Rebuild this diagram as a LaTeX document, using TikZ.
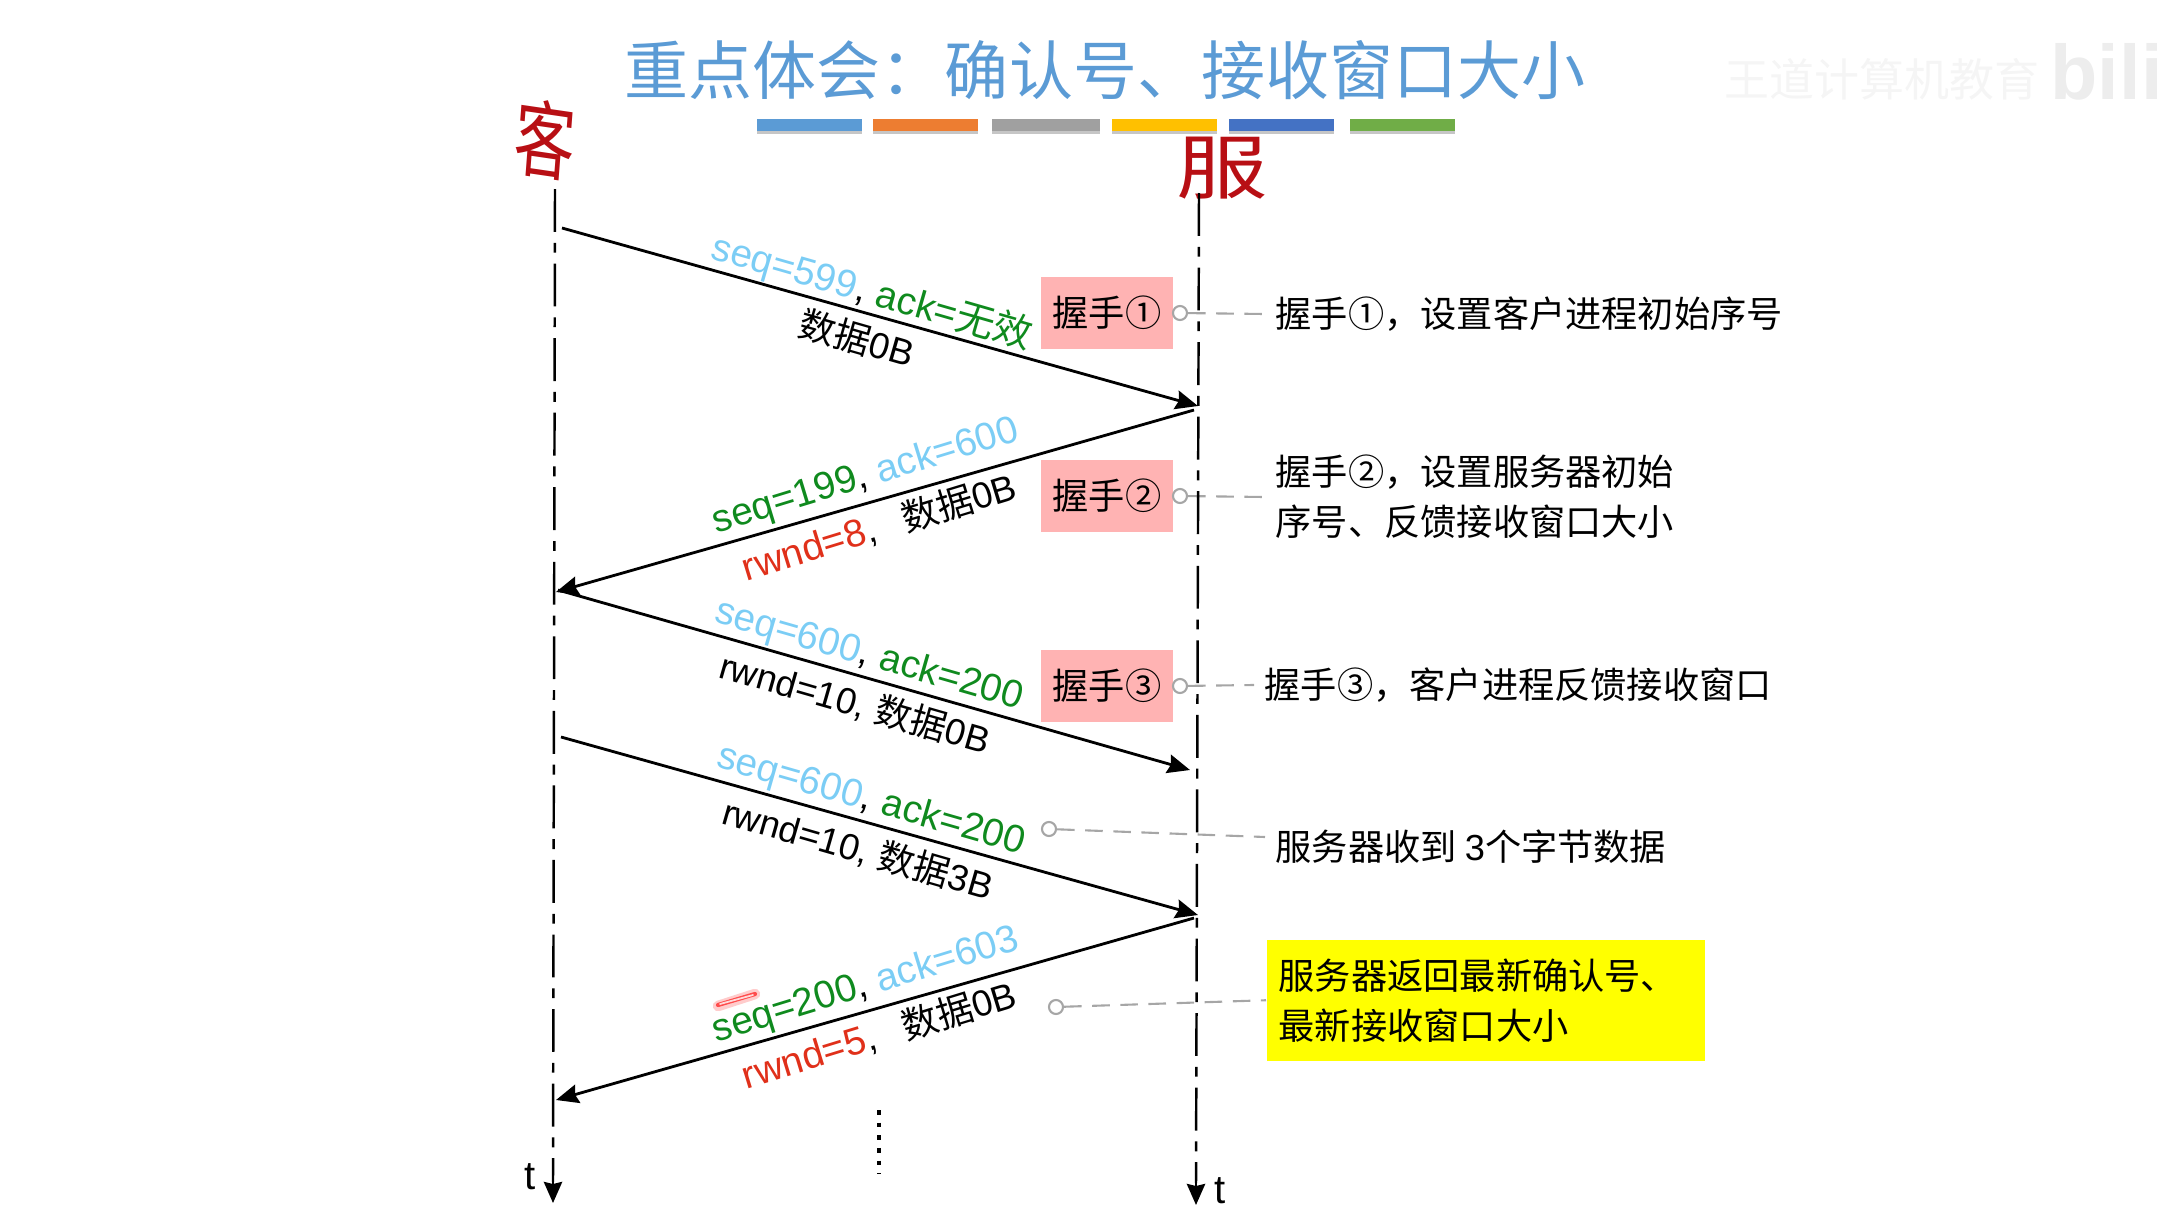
\documentclass[tikz,border=0pt]{standalone}
\usepackage{fontspec}
\setmainfont{Liberation Sans}
\newfontfamily\cjk{Noto Sans CJK SC}
\newcommand{\zh}[1]{{\cjk #1}}
\newcommand{\rwndtext}[1]{\textcolor{redtext}{\fontsize{11}{14}\selectfont #1}}
\usetikzlibrary{arrows.meta}
\definecolor{titleblue}{HTML}{5B9BD5}
\definecolor{barorange}{HTML}{ED7D31}
\definecolor{bargray}{HTML}{A0A0A0}
\definecolor{baryellow}{HTML}{FFC000}
\definecolor{barblue}{HTML}{4472C4}
\definecolor{bargreen}{HTML}{70AD47}
\definecolor{skytext}{HTML}{7BCDF5}
\definecolor{greentext}{HTML}{0F8A1E}
\definecolor{redtext}{HTML}{E0301A}
\definecolor{handred}{HTML}{B80F14}
\definecolor{shakepink}{HTML}{FFB3B3}
\definecolor{noteyellow}{HTML}{FFFF00}
\tikzset{
	lifeline/.style={line width=.7pt, dash pattern=on 12.2pt off 3.1pt on 2.8pt off 3.1pt},
	lifeend/.style={-{Stealth[length=6pt,width=5.2pt,inset=.6pt]}, line width=.7pt},
	msgline/.style={-{Stealth[length=6.4pt,width=5.4pt,inset=.8pt]}, line width=.8pt},
	seqtext/.style={font=\fontsize{11}{14}\selectfont, inner sep=0pt},
	dattext/.style={font=\fontsize{10.4}{14}\selectfont, inner sep=0pt},
	shakebox/.style={fill=shakepink, minimum width=1.31cm, minimum height=.72cm, inner sep=0pt, font=\cjk\fontsize{10.3}{14}\selectfont},
	notetext/.style={anchor=west, align=left, inner sep=.1cm, font=\cjk\fontsize{10.3}{14.2}\selectfont},
	leaddot/.style={circle, draw=gray!70, line width=.6pt, minimum size=.14cm, inner sep=0pt},
	leadline/.style={gray!70, line width=.6pt, dash pattern=on 5pt off 3pt},
}
\begin{document}
\begin{tikzpicture}[x=0.01cm, y=-0.01cm, line join=round]
	\useasboundingbox (0,0) rectangle (2166,1230);
	
	% ==========================================
	% TITLE AND COLOUR BARS
	% ==========================================
	\node[font=\cjk\fontsize{18.2}{22}\selectfont, text=titleblue, inner sep=0pt] (title) at (1105,70) {重点体会：确认号、接收窗口大小};
	\foreach \xa/\xb/\col in {757/862/titleblue, 873/978/barorange, 992/1100/bargray, 1112/1217/baryellow, 1229/1334/barblue, 1350/1455/bargreen} {
		\fill[gray!45] (\xa,123) rectangle (\xb,134);
		\fill[\col] (\xa,119) rectangle (\xb,131);
	}
	
	% faint watermark
	\node[font=\cjk\fontsize{12.8}{15}\selectfont, text=black!4, inner sep=0pt] (mark) at (1882,79) {王道计算机教育};
	\node[font=\bfseries\fontsize{22}{26}\selectfont, text=black!7, inner sep=0pt, anchor=west] (logo) at (2050,72) {bili};
	
	% handwritten client / server
	\node[font=\cjk\fontsize{24}{26}\selectfont, text=handred, xscale=.72, rotate=-6, inner sep=0pt] (client) at (545,140) {客};
	\node[font=\cjk\fontsize{20}{22}\selectfont, text=handred, xscale=1.3, inner sep=0pt] (server) at (1222,168) {服};
	
	% ==========================================
	% LEADERS AND NOTES
	% ==========================================
	\foreach \i/\y/\c in {1/313/①, 2/496/②, 3/686/③} {
		\node[shakebox] (box\i) at (1107,\y) {握手\c};
		\node[leaddot] (dot\i) at (1180,\y) {};
	}
	\node[leaddot] (dot4) at (1049,829) {};
	\node[leaddot] (dot5) at (1056,1007) {};
	
	\node[notetext] (note1) at (1265,314) {握手①，设置客户进程初始序号};
	\node[notetext] (note2) at (1265,497) {握手②，设置服务器初始\\序号、反馈接收窗口大小};
	\node[notetext] (note3) at (1254,685) {握手③，客户进程反馈接收窗口};
	\node[notetext] (note4) at (1265,847) {服务器收到 \fontspec{Liberation Sans}3\cjk 个字节数据};
	\node[fill=noteyellow, anchor=north west, text width=4.14cm, minimum height=1.21cm, inner xsep=.12cm, inner ysep=0pt, align=left, font=\cjk\fontsize{10.3}{14.2}\selectfont] (note5) at (1266,939) {服务器返回最新确认号、\\最新接收窗口大小};
	\coordinate (lead4) at (1265,837);
	
	\draw[leadline] (dot1) -- (note1.west);
	\draw[leadline] (dot2) -- (note2.west);
	\draw[leadline] (dot3) -- (note3.west);
	\draw[leadline] (dot4) -- (lead4);
	\draw[leadline] (dot5) -- (note5.west);
	
	% ==========================================
	% LIFELINES
	% ==========================================
	\coordinate (ctop) at (555,189);
	\coordinate (cend) at (553,1182);
	\coordinate (ctip) at (553,1203);
	\coordinate (stop) at (1199,193);
	\coordinate (send) at (1196,1183);
	\coordinate (stip) at (1196,1205);
	\draw[lifeline] (ctop) -- (cend);
	\draw[lifeline] (stop) -- (send);
	\draw[lifeend] (cend) -- (ctip);
	\draw[lifeend] (send) -- (stip);
	\node[font=\fontsize{11.4}{14}\selectfont, inner sep=0pt] (tleft) at (530,1177) {t};
	\node[font=\fontsize{11.4}{14}\selectfont, inner sep=0pt] (tright) at (1220,1191) {t};
	
	% ==========================================
	% MESSAGES
	% ==========================================
	\foreach \i/\xa/\ya/\xb/\yb in {1/562/228/1198/406, 2/1194/410/556/592, 3/558/590/1190/770, 4/561/737/1198/915, 5/1194/918/556/1100} {
		\coordinate (from\i) at (\xa,\ya);
		\coordinate (to\i) at (\xb,\yb);
		\draw[msgline] (from\i) -- (to\i);
	}
	
	\node[seqtext, rotate=-16] (seq1) at (872,292) {\textcolor{skytext}{seq=599}, \textcolor{greentext}{ack=\zh{无效}}};
	\node[dattext, rotate=-16] (dat1) at (857,338) {\zh{数据}0B};
	\node[seqtext, rotate=17] (seq2) at (866,477) {\textcolor{greentext}{seq=199}, \textcolor{skytext}{ack=600}};
	\node[dattext, rotate=17] (dat2) at (879,527) {\rwndtext{rwnd=8},\hspace{.5em} \zh{数据}0B};
	\node[seqtext, rotate=-16] (seq3) at (869,656) {\textcolor{skytext}{seq=600}, \textcolor{greentext}{ack=200}};
	\node[dattext, rotate=-16] (dat3) at (855,703) {rwnd=10, \zh{数据}0B};
	\node[seqtext, rotate=-16] (seq4) at (871,801) {\textcolor{skytext}{seq=600}, \textcolor{greentext}{ack=200}};
	\node[dattext, rotate=-16] (dat4) at (858,849) {rwnd=10, \zh{数据}3B};
	\node[seqtext, rotate=17] (seq5) at (866,986) {\textcolor{greentext}{seq=200}, \textcolor{skytext}{ack=603}};
	\node[dattext, rotate=17] (dat5) at (879,1035) {\rwndtext{rwnd=5},\hspace{.5em} \zh{数据}0B};
	
	% pen mark over seq=200
	\draw[red, opacity=.2, line width=3pt, line cap=round] (718,1006) -- (755,994);
	\draw[red!70!white, line width=1.2pt, line cap=round] (718,1005) -- (755,994);
	\draw[red!15!white, line width=.5pt, line cap=round] (720,1004) -- (753,995);
	
	% dots below the last message
	\draw[line width=1.3pt, dash pattern=on 1.3pt off 2.3pt] (879,1110) -- (879,1174);
\end{tikzpicture}
\end{document}
